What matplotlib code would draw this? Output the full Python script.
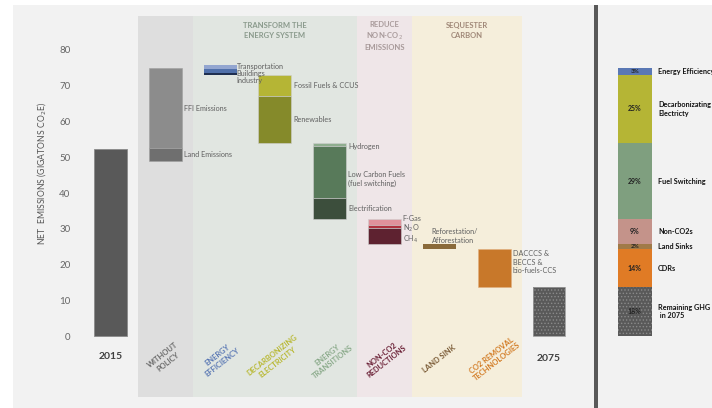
import numpy as np
import matplotlib
matplotlib.use('Agg')
import matplotlib.pyplot as plt
from matplotlib.patches import Rectangle

plt.rcParams['font.family'] = ['Lato', 'DejaVu Sans']
plt.rcParams['hatch.linewidth'] = 0.6

# --- data (GtCO2e) ---
total_2015 = 52.3
total_2075 = 13.7
wp_labels = ['Land Emissions', 'FFI Emissions']
wp_levels = [49.0, 52.5, 75.0]
ee_labels = ['Transportation', 'Buildings', 'Industry']
ee_levels = [75.8, 74.7, 73.6, 73.0]
dec_labels = ['Fossil Fuels & CCUS', 'Renewables']
dec_levels = [73.0, 67.1, 54.0]
tr_labels = ['Hydrogen', 'Low Carbon Fuels\n(fuel switching)', 'Electrification']
tr_levels = [54.0, 53.1, 38.6, 32.7]
nc_labels = ['F-Gas', 'N$_2$O', 'CH$_4$']
nc_levels = [32.6, 31.0, 30.3, 25.7]
land_levels = [25.7, 24.3]
cdr_levels = [24.3, 13.7]

categories = ['WITHOUT\nPOLICY', 'ENERGY\nEFFICIENCY', 'DECARBONIZING\nELECTRICITY',
              'ENERGY\nTRANSITIONS', 'NON-CO2\nREDUCTIONS', 'LAND SINK',
              'CO2 REMOVAL\nTECHNOLOGIES']
cat_colors = ['#6b6b6b', '#5a78b4', '#b8b832', '#8aaa8a', '#6a1f35', '#7a5a35', '#d27a22']

share_labels = ['Energy Efficiency', 'Decarbonizating\nElectricty', 'Fuel Switching',
                'Non-CO2s', 'Land Sinks', 'CDRs', 'Remaining GHG\n in 2075']
share_values = [2.0, 19.0, 21.3, 7.0, 1.4, 10.6, 13.7]
share_pct = ['3%', '25%', '29%', '9%', '2%', '14%', '18%']
share_colors = ['#5a78b4', '#b5b535', '#7f9f7f', '#c4938a', '#a07a48', '#e07b25', '#595959']

W, H = 712, 408
fig = plt.figure(figsize=(W / 100, H / 100), dpi=100)
fig.patch.set_facecolor('white')
fig.patches.append(Rectangle((13 / W, 0), 1, 1 - 5 / H, transform=fig.transFigure,
                             facecolor='#f2f2f2', edgecolor='none', zorder=-10))
fig.patches.append(Rectangle((594 / W, 0), 4 / W, 1 - 5 / H, transform=fig.transFigure,
                             facecolor='#595959', edgecolor='none', zorder=-5))

ylo, yhi = -17.06, 89.51
ax = fig.add_axes([80 / W, 11 / H, 510 / W, 381 / H])
ax.set_facecolor('none')
ax.set_xlim(-0.557, 8.749)
ax.set_ylim(ylo, yhi)
for s in ax.spines.values():
    s.set_visible(False)
ax.set_xticks([])
ax.set_yticks(range(0, 90, 10))
ax.tick_params(axis='y', length=0, pad=7, labelsize=7, labelcolor='#666666')

# background regions
spans = [(0.5, 1.5, '#dedede'), (1.5, 4.5, '#e1e6e1'), (4.5, 5.5, '#efe6e8'), (5.5, 7.5, '#f5eedb')]
for a, b, c in spans:
    ax.axvspan(a, b, color=c, zorder=0, lw=0)

w = 0.6
lc = '#606060'
fs = 5.2


def stack(x, levels, colors, edge='#cfcfcf'):
    for hi, lo, c in zip(levels[:-1], levels[1:], colors):
        ax.bar(x, hi - lo, bottom=lo, width=w, color=c, edgecolor=edge, linewidth=0.4, zorder=2)


# 2015
ax.bar(0, total_2015, width=w, color='#595959', edgecolor='#8a8a8a', linewidth=0.6, zorder=2)
# without policy
ax.bar(1, wp_levels[1] - wp_levels[0], bottom=wp_levels[0], width=w, color='#6f6f6f',
       edgecolor='#a0a0a0', linewidth=0.4, zorder=2)
ax.bar(1, wp_levels[2] - wp_levels[1], bottom=wp_levels[1], width=w, color='#8c8c8c',
       edgecolor='#a0a0a0', linewidth=0.4, zorder=2)
ax.text(1 + w / 2 + 0.04, np.mean(wp_levels[1:]), wp_labels[1], fontsize=fs, color=lc, va='center')
ax.text(1 + w / 2 + 0.04, np.mean(wp_levels[:2]), wp_labels[0], fontsize=fs, color=lc, va='center')

# energy efficiency
stack(2, ee_levels, ['#93a6d0', '#5070aa', '#1f2f50'], edge='none')
ax.text(2 + w / 2 + 0.0, ee_levels[0] + 0.5, '\n'.join(ee_labels), fontsize=fs, color=lc,
        va='top', linespacing=1.0)

# decarbonizing electricity
stack(3, dec_levels, ['#b5b535', '#858a2a'])
for lab, hi, lo in zip(dec_labels, dec_levels[:-1], dec_levels[1:]):
    ax.text(3 + w / 2 + 0.04, (hi + lo) / 2, lab, fontsize=fs, color=lc, va='center')

# energy transitions
stack(4, tr_levels, ['#8fae8f', '#587a5a', '#3c4e3c'])
tr_label_y = [52.9, 43.8, 35.8]
for lab, yy in zip(tr_labels, tr_label_y):
    ax.text(4 + w / 2 + 0.04, yy, lab, fontsize=fs, color=lc, va='center', linespacing=1.3)

# non-CO2
stack(5, nc_levels, ['#e0929c', '#b0323f', '#5e2230'])
nc_label_y = [33.0, 30.2, 26.9]
for lab, yy in zip(nc_labels, nc_label_y):
    ax.text(5 + w / 2 + 0.03, yy, lab, fontsize=fs, color=lc, va='center')

# land sink
ax.bar(6, land_levels[0] - land_levels[1], bottom=land_levels[1], width=w, color='#8a6a3a',
       edgecolor='none', zorder=2)
ax.text(6 - w / 2 + 0.16, 28.0, 'Reforestation/\nAfforestation', fontsize=fs, color=lc,
        va='center', linespacing=1.3)

# CO2 removal
ax.bar(7, cdr_levels[0] - cdr_levels[1], bottom=cdr_levels[1], width=w, color='#c8782a',
       edgecolor='#e0b080', linewidth=0.4, zorder=2)
ax.text(7 + w / 2 + 0.04, 20.7, 'DACCCS &\nBECCS &\nbio-fuels-CCS', fontsize=fs, color=lc,
        va='center', linespacing=1.3)

# 2075
ax.bar(8, total_2075, width=w, color='#595959', edgecolor='#8a8a8a', hatch='.....',
       linewidth=0.0, zorder=2)
ax.bar(8, total_2075, width=w, color='none', edgecolor='#9a9a9a', linewidth=0.6, zorder=3)

ax.text(0, -5.8, '2015', fontsize=7.5, fontweight='bold', color='#404040', ha='center', va='center')
ax.text(8, -6.2, '2075', fontsize=7.5, fontweight='bold', color='#404040', ha='center', va='center')

for i, (lab, c) in enumerate(zip(categories, cat_colors)):
    ax.text(i + 1, -6.3, lab, fontsize=5.4, fontweight='bold', color=c, rotation=38,
            ha='center', va='center', rotation_mode='anchor', linespacing=1.2)

# headers
ax.text(3.0, 87.8, 'TRANSFORM THE\nENERGY SYSTEM', fontsize=5.5, color='#8a9a8c',
        ha='center', va='top', linespacing=1.45, fontweight='bold')
ax.text(5.0, 88.2, 'REDUCE\nNON-CO$_2$\nEMISSIONS', fontsize=5.5, color='#a89a9a',
        ha='center', va='top', linespacing=1.35, fontweight='bold')
ax.text(6.5, 87.8, 'SEQUESTER\nCARBON', fontsize=5.5, color='#a08878',
        ha='center', va='top', linespacing=1.45, fontweight='bold')

fig.text(42 / W, 1 - 174 / H, 'NET  EMISSIONS (GIGATONS CO$_2$E)', rotation=90, fontsize=6.2,
         color='#555555', ha='center', va='center')

# right panel: share of reductions
ax2 = fig.add_axes([597 / W, 11 / H, 115 / W, 381 / H])
ax2.set_facecolor('none')
ax2.set_xlim(0, 1)
ax2.set_ylim(ylo, yhi)
ax2.axis('off')
tops = sum(share_values) - np.concatenate([[0], np.cumsum(share_values)[:-1]])
bx, bw = 0.33, 0.296
for lab, v, top, pct, c in zip(share_labels, share_values, tops, share_pct, share_colors):
    hatch = '.....' if lab.startswith('Remaining') else None
    ax2.bar(bx, v, bottom=top - v, width=bw, color=c, edgecolor='#8a8a8a' if hatch else 'none',
            hatch=hatch, linewidth=0, zorder=2)
    ax2.text(bx, top - v / 2, pct, fontsize=5 if v > 3 else 4.5, fontweight='bold',
             color='#222222', ha='center', va='center', zorder=5)
    ax2.text(0.53, top - v / 2, lab, fontsize=5.2, fontweight='bold', color='#111111',
             ha='left', va='center', linespacing=1.3, clip_on=False)

fig.savefig('out.png', dpi=100, facecolor=fig.get_facecolor())
